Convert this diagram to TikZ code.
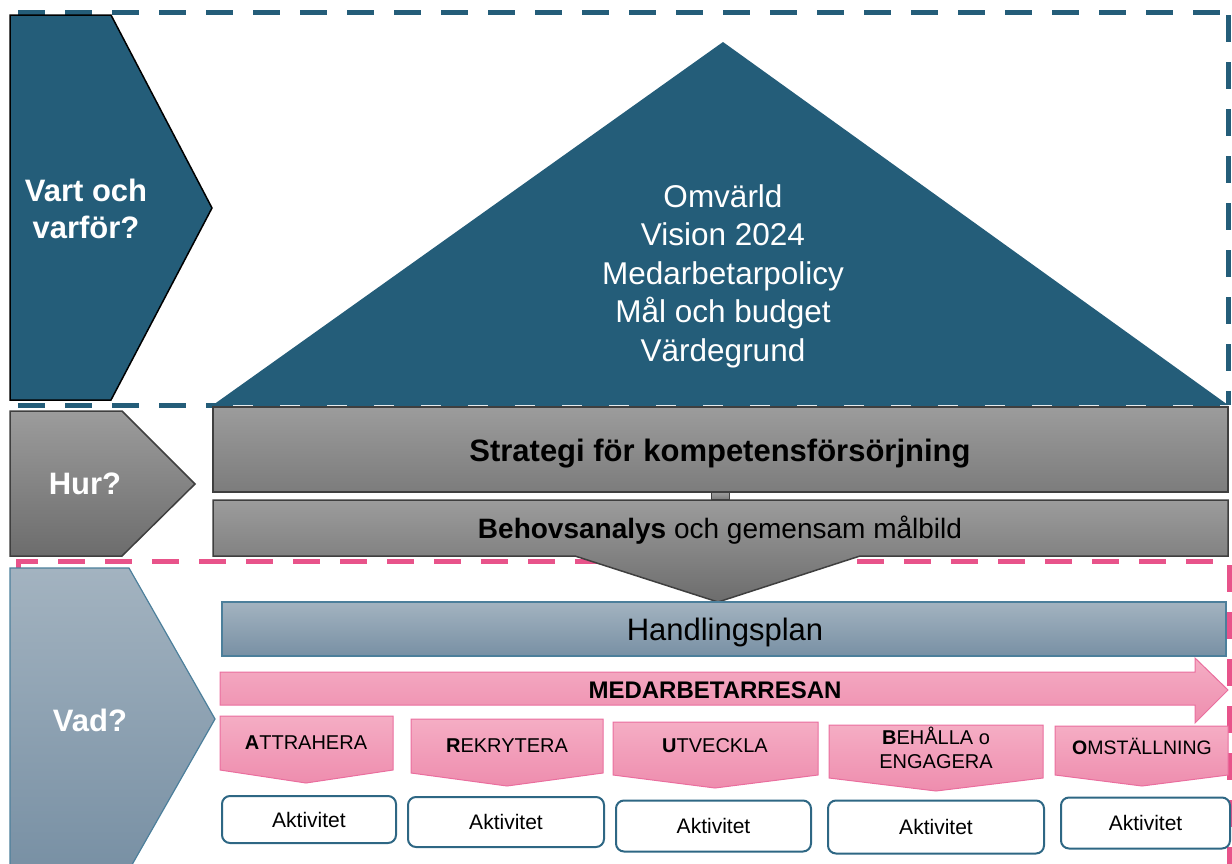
\documentclass[tikz,border=0pt]{standalone}
\usepackage{fontspec}
\setmainfont{Liberation Sans}
\usetikzlibrary{arrows}
\definecolor{navy}{HTML}{245D79}
\definecolor{pinkdash}{HTML}{E8538A}
\definecolor{graytop}{HTML}{9C9C9C}
\definecolor{graybot}{HTML}{7C7C7C}
\definecolor{grayedge}{HTML}{3F3F3F}
\definecolor{vadtop}{HTML}{A3B3C0}
\definecolor{vadbot}{HTML}{7890A4}
\definecolor{vadedge}{HTML}{4C7F9B}
\definecolor{pinktop}{HTML}{F5ADC4}
\definecolor{pinkbot}{HTML}{EE8DAE}
\definecolor{pinkedge}{HTML}{EA6E9E}
\definecolor{aktedge}{HTML}{2E6784}
\tikzstyle{bluedash} = [navy, line width=5pt, dash pattern=on 27pt off 20pt]
\tikzstyle{pinkframe} = [pinkdash, line width=5pt, dash pattern=on 27pt off 20pt]
\tikzstyle{question} = [text=white, 
font=\fontsize{31}{37}\selectfont\bfseries, 
align=center]
\tikzstyle{toptext} = [text=white, 
font=\fontsize{31.5}{38.5}\selectfont, 
align=center]
\tikzstyle{graybar} = [draw=grayedge, 
line width=1.5pt, 
top color=graytop, 
bottom color=graybot]
\tikzstyle{planbar} = [rectangle, 
draw=vadedge, 
line width=1.2pt, 
top color=vadtop, 
bottom color=vadbot, 
minimum width=1004pt, 
minimum height=54pt]
\tikzstyle{pinkshape} = [draw=pinkedge, 
line width=1pt, 
top color=pinktop, 
bottom color=pinkbot]
\tikzstyle{steptext} = [font=\fontsize{20}{24}\selectfont, align=center]
\tikzstyle{aktbox} = [rectangle, rounded corners=8pt, 
draw=aktedge, 
line width=2pt, 
fill=white, 
font=\fontsize{21}{25}\selectfont]

\begin{document}
\begin{tikzpicture}[x=1pt, y=-1pt]
\useasboundingbox (0,0) rectangle (1232,863);

% dashed frames
\draw [bluedash] (18,12) -- (1228,12);
\draw [bluedash] (1228,15) -- (1228,405);
\draw [bluedash] (18,405) -- (1228,405);
\draw [pinkframe] (18,568) -- (18,561) -- (1229,561) -- (1229,870);

% vart och varfor
\fill [navy] (213,405) -- (723,42) -- (1228,405) -- cycle;
\node (grund) [toptext] at (723,276) {Omvärld\\Vision 2024\\Medarbetarpolicy\\Mål och budget\\Värdegrund};
\draw [fill=navy, draw=black, line width=1.5pt] (10,15) -- (111,15) -- (212,208) -- (111,400) -- (10,400) -- cycle;
\node (vart) [question] at (86,209) {Vart och\\varför?};

% hur
\draw [graybar, top color=graytop, bottom color=gray!85!black] (10,411) -- (122,411) -- (195,484) -- (122,556) -- (10,556) -- cycle;
\node (hur) [question] at (85,484) {Hur?};
\node (strategi) [graybar, rectangle, minimum width=1015pt, minimum height=85pt] at (720.5,449.5) {};
\node (strattext) [font=\fontsize{31}{37}\selectfont\bfseries] at (720,454) {Strategi för kompetensförsörjning};
\draw [graybar, bottom color=gray!85!black] (213,500) -- (1228,500) -- (1228,556) -- (860,556) -- (718,602) -- (575,556) -- (213,556) -- cycle;
\node (behov) [font=\fontsize{28}{34}\selectfont] at (720,530) {\textbf{Behovsanalys} och gemensam målbild};
\node (stem) [graybar, rectangle, minimum width=18pt, minimum height=7pt, inner sep=0pt, line width=1pt] at (720,496) {};

% vad
\draw [draw=vadedge, line width=1.2pt, top color=vadtop, bottom color=vadbot] (10,568) -- (129,568) -- (215,719) -- (129,870) -- (10,870) -- cycle;
\node (vad) [question] at (90,720) {Vad?};
\node (plan) [planbar] at (724,629) {};
\node (plantext) [font=\fontsize{31}{37}\selectfont] at (725,632) {Handlingsplan};

\draw [pinkshape] (220,672) -- (1195,672) -- (1195,658) -- (1228,690) -- (1195,723) -- (1195,705) -- (220,705) -- cycle;
\node (resan) [font=\fontsize{24}{28}\selectfont\bfseries] at (715,690) {MEDARBETARRESAN};

% steg
\draw [pinkshape] (220,716) -- (393,716) -- (393,770) -- (306,783) -- (220,770) -- cycle;
\draw [pinkshape] (411,719) -- (603,719) -- (603,773) -- (507,786) -- (411,773) -- cycle;
\draw [pinkshape] (613,722) -- (818,722) -- (818,775) -- (715,788) -- (613,775) -- cycle;
\draw [pinkshape] (829,725) -- (1043,725) -- (1043,778) -- (936,791) -- (829,778) -- cycle;
\draw [pinkshape] (1055,726) -- (1228,726) -- (1228,775) -- (1142,786) -- (1055,775) -- cycle;
\node (attr) [steptext] at (306,743) {\textbf{A}TTRAHERA};
\node (rekr) [steptext] at (507,746) {\textbf{R}EKRYTERA};
\node (utv) [steptext] at (715,746) {\textbf{U}TVECKLA};
\node (beh) [steptext] at (936,748) {\textbf{B}EHÅLLA o\\ENGAGERA};
\node (omst) [steptext, font=\fontsize{19.5}{24}\selectfont] at (1142,746) {\textbf{O}MSTÄLLNING};

% aktiviteter
\node (akt1) [aktbox, minimum width=174pt, minimum height=47pt] at (309,819.5) {Aktivitet};
\node (akt2) [aktbox, minimum width=196pt, minimum height=50pt] at (506,822) {Aktivitet};
\node (akt3) [aktbox, minimum width=195pt, minimum height=51pt] at (713.5,826) {Aktivitet};
\node (akt4) [aktbox, minimum width=216pt, minimum height=53pt] at (936,827) {Aktivitet};
\node (akt5) [aktbox, minimum width=169pt, minimum height=51pt] at (1145.5,823) {Aktivitet};

\end{tikzpicture}
\end{document}
